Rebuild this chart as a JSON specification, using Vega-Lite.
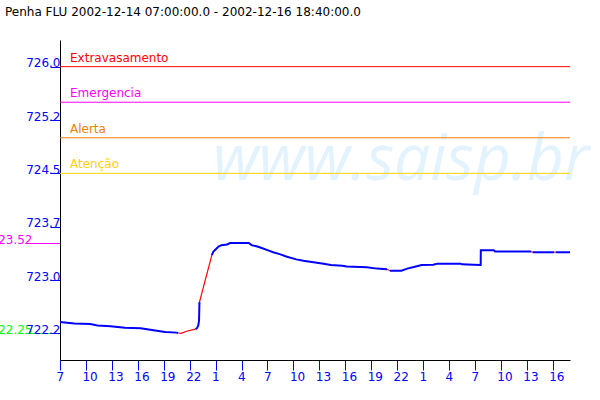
{
  "$schema": "https://vega.github.io/schema/vega-lite/v6.json",
  "width": 510,
  "height": 320,
  "autosize": "none",
  "padding": {"left": 60, "top": 40, "right": 30, "bottom": 40},
  "background": "white",
  "title": {"text": "Penha FLU 2002-12-14 07:00:00.0 - 2002-12-16 18:40:00.0", "anchor": "start", "frame": "group", "dx": -55, "offset": 21, "font": "DejaVu Sans", "fontSize": 12, "fontWeight": "normal", "color": "#000000"},
  "config": {"view": {"stroke": null}, "axis": {"grid": false, "labelOverlap": false, "labelBound": false, "labelFlush": false}},
  "datasets": {
    "azul": [
      {"seg": "b1", "t": "2002-12-14T07:00", "v": 722.41},
      {"seg": "b1", "t": "2002-12-14T08:40", "v": 722.39},
      {"seg": "b1", "t": "2002-12-14T10:30", "v": 722.38},
      {"seg": "b1", "t": "2002-12-14T11:20", "v": 722.36},
      {"seg": "b1", "t": "2002-12-14T12:50", "v": 722.35},
      {"seg": "b1", "t": "2002-12-14T14:30", "v": 722.33},
      {"seg": "b1", "t": "2002-12-14T16:20", "v": 722.32},
      {"seg": "b1", "t": "2002-12-14T18:00", "v": 722.29},
      {"seg": "b1", "t": "2002-12-14T19:10", "v": 722.27},
      {"seg": "b1", "t": "2002-12-14T20:30", "v": 722.26},
      {"seg": "b1", "t": "2002-12-14T20:40", "v": 722.255},
      {"seg": "b2", "t": "2002-12-14T22:40", "v": 722.31},
      {"seg": "b2", "t": "2002-12-14T22:50", "v": 722.32},
      {"seg": "b2", "t": "2002-12-14T23:00", "v": 722.36},
      {"seg": "b2", "t": "2002-12-14T23:05", "v": 722.43},
      {"seg": "b2", "t": "2002-12-14T23:08", "v": 722.69},
      {"seg": "b3", "t": "2002-12-15T00:34", "v": 723.35},
      {"seg": "b3", "t": "2002-12-15T00:36", "v": 723.36},
      {"seg": "b3", "t": "2002-12-15T00:45", "v": 723.40},
      {"seg": "b3", "t": "2002-12-15T01:00", "v": 723.43},
      {"seg": "b3", "t": "2002-12-15T01:20", "v": 723.47},
      {"seg": "b3", "t": "2002-12-15T01:40", "v": 723.49},
      {"seg": "b3", "t": "2002-12-15T02:20", "v": 723.50},
      {"seg": "b3", "t": "2002-12-15T02:40", "v": 723.52},
      {"seg": "b3", "t": "2002-12-15T04:50", "v": 723.52},
      {"seg": "b3", "t": "2002-12-15T05:10", "v": 723.49},
      {"seg": "b3", "t": "2002-12-15T05:50", "v": 723.47},
      {"seg": "b3", "t": "2002-12-15T06:20", "v": 723.45},
      {"seg": "b3", "t": "2002-12-15T07:00", "v": 723.42},
      {"seg": "b3", "t": "2002-12-15T07:40", "v": 723.39},
      {"seg": "b3", "t": "2002-12-15T08:30", "v": 723.36},
      {"seg": "b3", "t": "2002-12-15T09:10", "v": 723.33},
      {"seg": "b3", "t": "2002-12-15T10:20", "v": 723.29},
      {"seg": "b3", "t": "2002-12-15T11:10", "v": 723.27},
      {"seg": "b3", "t": "2002-12-15T12:20", "v": 723.25},
      {"seg": "b3", "t": "2002-12-15T13:30", "v": 723.23},
      {"seg": "b3", "t": "2002-12-15T14:20", "v": 723.21},
      {"seg": "b3", "t": "2002-12-15T15:40", "v": 723.20},
      {"seg": "b3", "t": "2002-12-15T16:10", "v": 723.19},
      {"seg": "b3", "t": "2002-12-15T18:30", "v": 723.18},
      {"seg": "b3", "t": "2002-12-15T19:40", "v": 723.16},
      {"seg": "b3", "t": "2002-12-15T20:50", "v": 723.15},
      {"seg": "b4", "t": "2002-12-15T21:10", "v": 723.13},
      {"seg": "b4", "t": "2002-12-15T22:30", "v": 723.13},
      {"seg": "b4", "t": "2002-12-15T23:10", "v": 723.16},
      {"seg": "b4", "t": "2002-12-16T00:10", "v": 723.19},
      {"seg": "b4", "t": "2002-12-16T00:50", "v": 723.21},
      {"seg": "b4", "t": "2002-12-16T02:10", "v": 723.215},
      {"seg": "b4", "t": "2002-12-16T02:40", "v": 723.23},
      {"seg": "b4", "t": "2002-12-16T05:20", "v": 723.23},
      {"seg": "b4", "t": "2002-12-16T05:30", "v": 723.22},
      {"seg": "b4", "t": "2002-12-16T06:50", "v": 723.215},
      {"seg": "b4", "t": "2002-12-16T07:40", "v": 723.21},
      {"seg": "b4", "t": "2002-12-16T07:41", "v": 723.42},
      {"seg": "b4", "t": "2002-12-16T09:10", "v": 723.42},
      {"seg": "b4", "t": "2002-12-16T09:20", "v": 723.40},
      {"seg": "b4", "t": "2002-12-16T13:30", "v": 723.40},
      {"seg": "b5", "t": "2002-12-16T13:40", "v": 723.39},
      {"seg": "b5", "t": "2002-12-16T16:10", "v": 723.39},
      {"seg": "b6", "t": "2002-12-16T16:20", "v": 723.39},
      {"seg": "b6", "t": "2002-12-16T18:00", "v": 723.39}
    ],
    "vermelho": [
      {"seg": "r1", "t": "2002-12-14T20:40", "v": 722.255},
      {"seg": "r1", "t": "2002-12-14T21:00", "v": 722.25},
      {"seg": "r1", "t": "2002-12-14T21:40", "v": 722.28},
      {"seg": "r1", "t": "2002-12-14T22:40", "v": 722.31},
      {"seg": "r2", "t": "2002-12-14T23:08", "v": 722.69},
      {"seg": "r2", "t": "2002-12-15T00:34", "v": 723.35},
      {"seg": "r3", "t": "2002-12-15T20:50", "v": 723.15},
      {"seg": "r3", "t": "2002-12-15T21:10", "v": 723.13},
      {"seg": "r4", "t": "2002-12-16T13:30", "v": 723.40},
      {"seg": "r4", "t": "2002-12-16T13:40", "v": 723.39},
      {"seg": "r5", "t": "2002-12-16T16:10", "v": 723.39},
      {"seg": "r5", "t": "2002-12-16T16:20", "v": 723.39}
    ],
    "niveis": [
      {"nivel": "Extravasamento", "v": 726.0, "t": "2002-12-14T07:00"},
      {"nivel": "Emergencia", "v": 725.5, "t": "2002-12-14T07:00"},
      {"nivel": "Alerta", "v": 725.0, "t": "2002-12-14T07:00"},
      {"nivel": "Atenção", "v": 724.5, "t": "2002-12-14T07:00"}
    ],
    "marca": [
      {"texto": "www.saisp.br", "t": "2002-12-15T00:42", "v": 724.41}
    ]
  },
  "layer": [
    {
      "data": {"name": "marca"},
      "mark": {"type": "text", "font": "Open Sans", "fontStyle": "italic", "fontSize": 64, "color": "#e3f3fd", "align": "left", "baseline": "alphabetic"},
      "encoding": {
        "x": {
          "field": "t", "type": "temporal",
          "scale": {"domain": [{"year": 2002, "month": 12, "date": 14, "hours": 7}, {"year": 2002, "month": 12, "date": 16, "hours": 18}]},
          "axis": {
            "title": null,
            "tickCount": 40,
            "values": {"expr": "[datetime(2002,11,14,7), datetime(2002,11,14,10), datetime(2002,11,14,13), datetime(2002,11,14,16), datetime(2002,11,14,19), datetime(2002,11,14,22), datetime(2002,11,15,1), datetime(2002,11,15,4), datetime(2002,11,15,7), datetime(2002,11,15,10), datetime(2002,11,15,13), datetime(2002,11,15,16), datetime(2002,11,15,19), datetime(2002,11,15,22), datetime(2002,11,16,1), datetime(2002,11,16,4), datetime(2002,11,16,7), datetime(2002,11,16,10), datetime(2002,11,16,13), datetime(2002,11,16,16)]"},
            "labelExpr": "timeFormat(datum.value, '%-H')",
            "domainColor": "#000000",
            "domainWidth": 1,
            "tickColor": "#0000ff",
            "tickSize": 10,
            "labelColor": "#0000ff",
            "labelFont": "DejaVu Sans",
            "labelFontSize": 12,
            "labelAlign": "left",
            "labelBaseline": "top",
            "labelOffset": -4,
            "labelPadding": 1,
            "labelFlush": false,
            "labelOverlap": false,
            "labelBound": false
          }
        },
        "y": {
          "field": "v", "type": "quantitative",
          "scale": {"domain": [721.875, 726.375], "nice": false, "zero": false},
          "axis": {
            "title": null,
            "tickCount": 40,
            "values": [722.2499, 722.25, 723, 723.52, 723.75, 724.5, 725.25, 726],
            "labelExpr": "datum.value == 723.52 ? '723.52' : (datum.value == 722.2499 ? '722.25' : format(floor(datum.value * 10 + 0.000001) / 10, '.1f'))",
            "domainColor": "#000000",
            "domainWidth": 1,
            "tickColor": {"condition": [{"test": "datum.value == 723.52", "value": "#ff00ff"}, {"test": "datum.value == 722.2499", "value": "#00ff00"}], "value": "#0000ff"},
            "labelColor": {"condition": [{"test": "datum.value == 723.52", "value": "#ff00ff"}, {"test": "datum.value == 722.2499", "value": "#00ff00"}], "value": "#0000ff"},
            "tickSize": {"condition": {"test": "datum.value == 723.52 || datum.value == 722.2499", "value": 35}, "value": 10},
            "labelPadding": {"condition": {"test": "datum.value == 723.52 || datum.value == 722.2499", "value": -7}, "value": -10},
            "labelFont": "DejaVu Sans",
            "labelFontSize": 12,
            "labelAlign": "right",
            "labelBaseline": "alphabetic",
            "labelFlush": false,
            "labelOverlap": false,
            "labelBound": false
          }
        },
        "text": {"field": "texto"}
      }
    },
    {
      "data": {"name": "niveis"},
      "mark": {"type": "rule", "strokeWidth": 1},
      "encoding": {
        "y": {"field": "v", "type": "quantitative", "title": null},
        "color": {"field": "nivel", "type": "nominal", "legend": null, "scale": {"domain": ["Extravasamento", "Emergencia", "Alerta", "Atenção"], "range": ["#ff0000", "#ff00ff", "#f08000", "#ffd200"]}}
      }
    },
    {
      "data": {"name": "niveis"},
      "mark": {"type": "text", "font": "DejaVu Sans", "fontSize": 12, "align": "left", "baseline": "alphabetic", "dx": 10, "dy": -5},
      "encoding": {
        "x": {"field": "t", "type": "temporal", "title": null},
        "y": {"field": "v", "type": "quantitative", "title": null},
        "text": {"field": "nivel"},
        "color": {"field": "nivel", "type": "nominal", "legend": null, "scale": {"domain": ["Extravasamento", "Emergencia", "Alerta", "Atenção"], "range": ["#ff0000", "#ff00ff", "#f08000", "#ffd200"]}}
      }
    },
    {
      "data": {"name": "azul"},
      "mark": {"type": "line", "color": "#0000ff", "strokeWidth": 2},
      "encoding": {
        "x": {"field": "t", "type": "temporal", "title": null},
        "y": {"field": "v", "type": "quantitative", "title": null},
        "detail": {"field": "seg", "type": "nominal"}
      }
    },
    {
      "data": {"name": "vermelho"},
      "mark": {"type": "line", "color": "#ff0000", "strokeWidth": 1.2},
      "encoding": {
        "x": {"field": "t", "type": "temporal", "title": null},
        "y": {"field": "v", "type": "quantitative", "title": null},
        "detail": {"field": "seg", "type": "nominal"}
      }
    }
  ]
}
